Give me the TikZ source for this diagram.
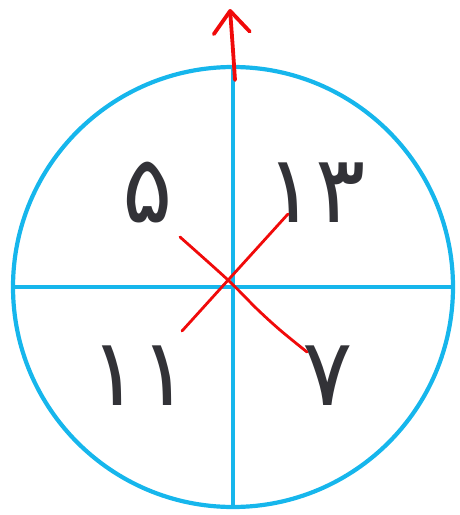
\documentclass[tikz,border=0pt]{standalone}
\usepackage{fontspec}
\usepackage{tikz}
\usetikzlibrary{arrows.meta}
\newfontfamily\arabicfont[Script=Arabic]{DejaVu Sans}
\definecolor{wheelblue}{RGB}{22,182,236}
\definecolor{markred}{RGB}{240,10,10}
\definecolor{digitgray}{RGB}{50,50,55}
\tikzstyle{wheel}=[wheelblue, line width=4.2pt]
\tikzstyle{cross}=[markred, line width=2.8pt, line cap=round]
\tikzstyle{digit}=[digitgray, font=\arabicfont\fontsize{94}{94}\selectfont, inner sep=0pt]

\begin{document}
\begin{tikzpicture}[x=1pt, y=-1pt]
  \useasboundingbox (0,0) rectangle (459,515);

  % Circle and axes
  \coordinate (O) at (233,287);
  \draw[wheel] (O) circle[radius=220pt];
  \coordinate (top) at (233,67);
  \coordinate (bottom) at (233,507);
  \coordinate (left) at (13,287);
  \coordinate (right) at (453,287);
  \draw[wheel] (top) -- (bottom);
  \draw[wheel] (left) -- (right);

  % Numbers
  \node[digit] (five) at (148,193) {۵};
  \node[digit] (thirteen) at (316,193) {۱۳};
  \node[digit] (eleven) at (140,376) {۱۱};
  \node[digit] (seven) at (328,376) {۷};

  % Red cross
  \coordinate (crossA) at (180,237);
  \coordinate (crossB) at (307,352);
  \coordinate (crossC) at (182,331);
  \coordinate (crossD) at (288,214);
  \draw[cross] plot[smooth] coordinates {(crossA) (228,280) (257,309) (280,330) (crossB)};
  \draw[cross] (crossC) -- (crossD);

  % Arrow up
  \coordinate (arrowFrom) at (235,80);
  \coordinate (arrowTo) at (230,9);
  \draw[markred, line width=3.8pt, line cap=round,
        -{Straight Barb[length=22pt, width=36pt, round]}]
    (arrowFrom) .. controls (233,50) .. (arrowTo);
\end{tikzpicture}
\end{document}
